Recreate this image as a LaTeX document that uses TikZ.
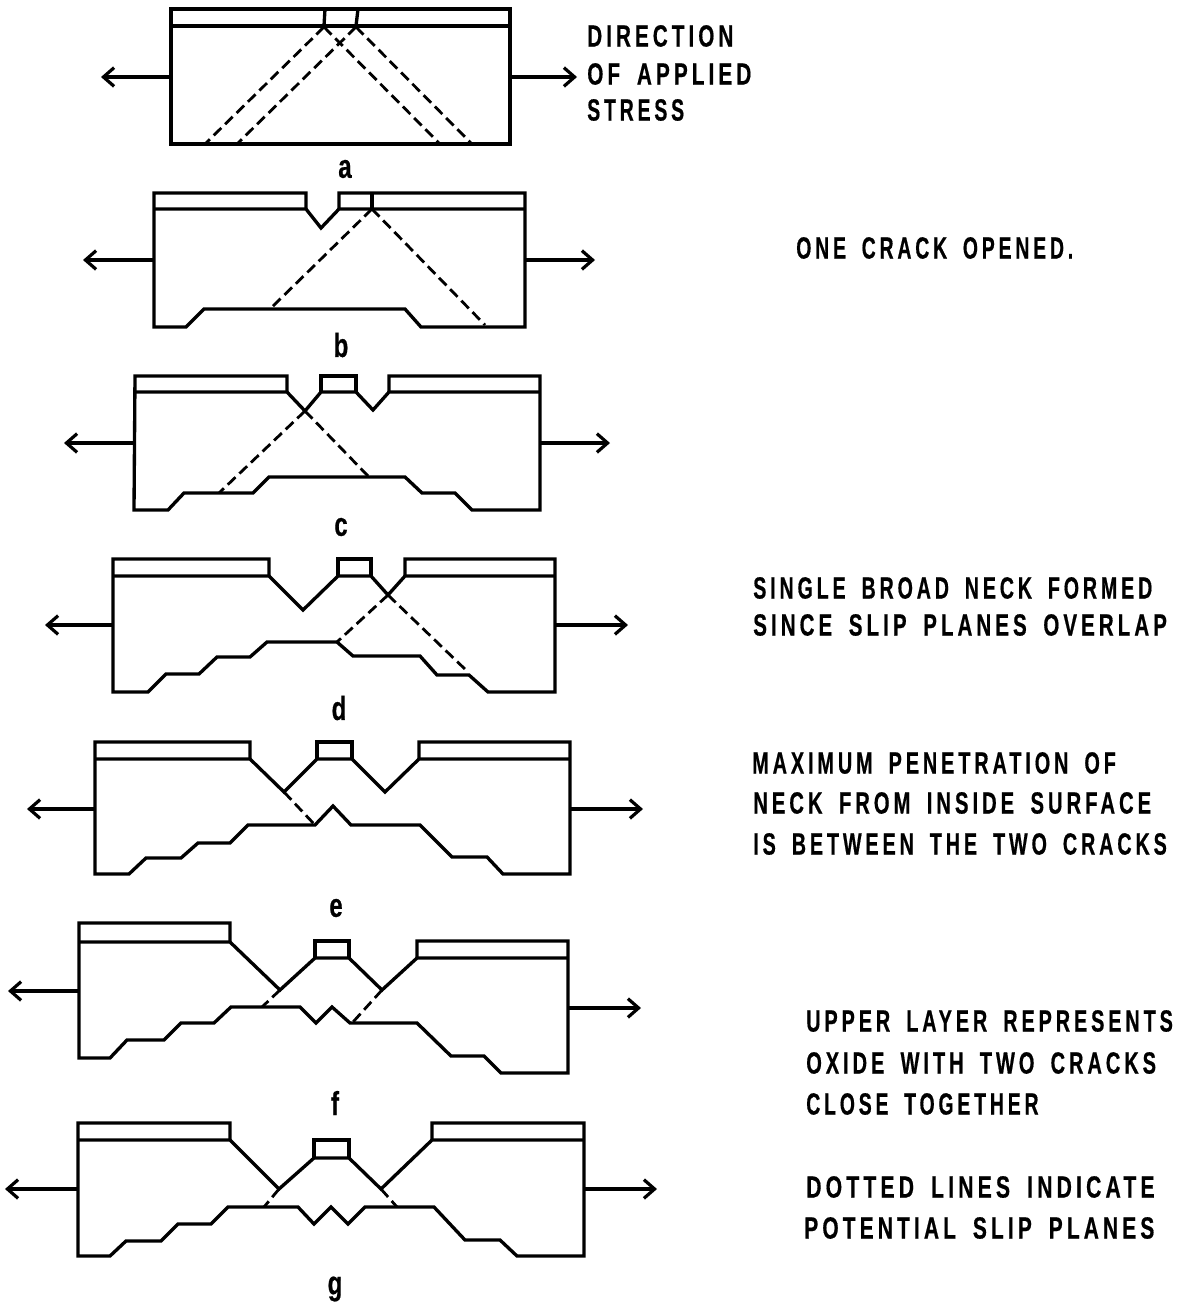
\documentclass[tikz,border=0pt]{standalone}
\usepackage{fontspec}
\usepackage{graphicx}
\usetikzlibrary{arrows.meta}
\setmainfont[FakeStretch=0.66,LetterSpace=13,WordSpace=1.7,FakeBold=0.5]{Liberation Sans Bold}
\newfontfamily\lblfont[FakeStretch=0.72,FakeBold=0.5]{Liberation Sans Bold}
\newcommand{\sx}[2]{\scalebox{#1}[1]{#2}}
\begin{document}
\begin{tikzpicture}[x=0.75pt,y=-0.75pt,
  thick line/.style={line width=2.5pt,line join=miter},
  slip/.style={line width=2.1pt,dash pattern=on 8pt off 4pt},
  stress/.style={line width=2.3pt,-{Straight Barb[length=8pt,width=14pt,line width=2.4pt]}},
  note/.style={anchor=west,font=\fontsize{23}{23}\selectfont,inner sep=0pt},
  lbl/.style={font=\lblfont\fontsize{25}{25}\selectfont,inner sep=0pt}]
\useasboundingbox (0,0) rectangle (1189,1303);
% panel a
\draw[thick line] (171,9) rectangle (510,144);
\draw[thick line] (171,26) -- (510,26);
\draw[thick line] (325,9) -- (324,26) (358,9) -- (356,26);
\draw[slip] (324,27) -- (206,143);
\draw[slip] (356,27) -- (238,143);
\draw[slip] (324,27) -- (439,143);
\draw[slip] (356,27) -- (471,143);
\coordinate (aL) at (171,77); \coordinate (aLt) at (101,77);
\coordinate (aR) at (510,77); \coordinate (aRt) at (577,77);
\draw[stress] (aL) -- (aLt);
\draw[stress] (aR) -- (aRt);
\node[lbl] (la) at (345,169) {a};
% panel b
\draw[thick line] (306,209) -- (306,193) -- (154,193) -- (154,327) -- (186,327) -- (204,309) -- (405,309) -- (421,327) -- (525,327) -- (525,193) -- (339,193) -- (339,209);
\draw[thick line] (154,209) -- (306,209) -- (321,228) -- (339,209) -- (525,209);
\draw[thick line] (372,193) -- (372,209);
\draw[slip] (372,209) -- (270,309);
\draw[slip] (372,209) -- (485,325);
\coordinate (bL) at (154,260); \coordinate (bLt) at (83,260);
\coordinate (bR) at (525,260); \coordinate (bRt) at (595,260);
\draw[stress] (bL) -- (bLt);
\draw[stress] (bR) -- (bRt);
\node[lbl] (lb) at (341,345) {b};
% panel c
\draw[thick line] (287,392) -- (287,376) -- (135,376) -- (134,510) -- (168,510) -- (184,493) -- (253,493) -- (269,477) -- (405,477) -- (422,493) -- (455,493) -- (472,510) -- (540,510) -- (540,376) -- (389,376) -- (389,392);
\draw[thick line] (135,392) -- (287,392) -- (305,411) -- (321,392) -- (356,392) -- (373,410) -- (389,392) -- (540,392);
\draw[thick line] (321,392) -- (321,376) -- (356,376) -- (356,392);
\draw[slip] (305,411) -- (219,493);
\draw[slip] (305,411) -- (369,477);
\coordinate (cL) at (133,443); \coordinate (cLt) at (64,443);
\coordinate (cR) at (540,443); \coordinate (cRt) at (610,443);
\draw[stress] (cL) -- (cLt);
\draw[stress] (cR) -- (cRt);
\node[lbl] (lc) at (341,527) {c};
% panel d
\draw[thick line] (269,576) -- (269,559) -- (113,559) -- (113,692) -- (148,692) -- (166,674) -- (199,674) -- (217,657) -- (250,657) -- (267,642) -- (337,642) -- (353,656) -- (420,656) -- (437,675) -- (469,675) -- (488,692) -- (555,692) -- (555,559) -- (405,559) -- (405,576);
\draw[thick line] (113,576) -- (269,576) -- (303,610) -- (338,576) -- (371,576) -- (388,595) -- (405,576) -- (555,576);
\draw[thick line] (338,576) -- (338,559) -- (371,559) -- (371,576);
\draw[slip] (388,595) -- (337,642);
\draw[slip] (388,595) -- (468,672);
\coordinate (dL) at (113,625); \coordinate (dLt) at (45,625);
\coordinate (dR) at (555,625); \coordinate (dRt) at (628,625);
\draw[stress] (dL) -- (dLt);
\draw[stress] (dR) -- (dRt);
\node[lbl] (ld) at (339,708) {d};
% panel e
\draw[thick line] (250,759) -- (250,742) -- (95,742) -- (95,874) -- (129,874) -- (146,858) -- (181,858) -- (198,843) -- (230,843) -- (248,825) -- (315,825) -- (333,806) -- (351,825) -- (420,825) -- (452,857) -- (487,857) -- (503,874) -- (570,874) -- (570,742) -- (419,742) -- (419,759);
\draw[thick line] (95,759) -- (250,759) -- (284,792) -- (317,759) -- (352,759) -- (385,792) -- (419,759) -- (570,759);
\draw[thick line] (317,759) -- (317,742) -- (352,742) -- (352,759);
\draw[slip] (284,792) -- (315,825);
\coordinate (eL) at (95,809); \coordinate (eLt) at (27,809);
\coordinate (eR) at (570,809); \coordinate (eRt) at (643,809);
\draw[stress] (eL) -- (eLt);
\draw[stress] (eR) -- (eRt);
\node[lbl] (le) at (336,908) {e};
% panel f
\draw[thick line] (230,942) -- (230,923) -- (79,923) -- (79,1058) -- (110,1058) -- (127,1040) -- (164,1040) -- (181,1023) -- (214,1023) -- (231,1007) -- (300,1007) -- (316,1023) -- (332,1007) -- (350,1023) -- (417,1023) -- (451,1056) -- (484,1056) -- (501,1073) -- (568,1073) -- (568,941) -- (417,941) -- (417,958);
\draw[thick line] (79,942) -- (230,942) -- (280,990) -- (315,958) -- (349,958) -- (382,990) -- (417,958) -- (568,958);
\draw[thick line] (315,958) -- (315,941) -- (349,941) -- (349,958);
\draw[slip] (280,990) -- (262,1007);
\draw[slip] (382,990) -- (353,1022);
\coordinate (fL) at (79,991); \coordinate (fLt) at (8,991);
\coordinate (fR) at (568,1008); \coordinate (fRt) at (641,1008);
\draw[stress] (fL) -- (fLt);
\draw[stress] (fR) -- (fRt);
\node[lbl] (lf) at (335,1103) {f};
% panel g
\draw[thick line] (230,1140) -- (230,1123) -- (78,1123) -- (78,1256) -- (110,1256) -- (126,1241) -- (161,1241) -- (178,1224) -- (211,1224) -- (228,1207) -- (298,1207) -- (314,1224) -- (331,1207) -- (348,1224) -- (365,1207) -- (434,1207) -- (465,1240) -- (500,1240) -- (517,1256) -- (584,1256) -- (584,1123) -- (432,1123) -- (432,1140);
\draw[thick line] (78,1140) -- (230,1140) -- (279,1189) -- (314,1158) -- (349,1158) -- (381,1189) -- (432,1140) -- (584,1140);
\draw[thick line] (314,1158) -- (314,1140) -- (349,1140) -- (349,1158);
\draw[slip] (279,1189) -- (264,1207);
\draw[slip] (381,1189) -- (397,1207);
\coordinate (gL) at (78,1189); \coordinate (gLt) at (5,1189);
\coordinate (gR) at (584,1189); \coordinate (gRt) at (657,1189);
\draw[stress] (gL) -- (gLt);
\draw[stress] (gR) -- (gRt);
\node[lbl] (lg) at (335,1289) {g};
% notes
\node[note] (n1) at (587,36) {\sx{1.02}{DIRECTION}};
\node[note] (n2) at (587,74) {\sx{1.025}{OF APPLIED}};
\node[note] (n3) at (587,110) {\sx{0.96}{STRESS}};
\node[note] (n4) at (796,248) {\sx{0.96}{ONE CRACK OPENED.}};
\node[note] (n5) at (753,588) {\sx{0.97}{SINGLE BROAD NECK FORMED}};
\node[note] (n6) at (753,625) {\sx{1.015}{SINCE SLIP PLANES OVERLAP}};
\node[note] (n7) at (752,763) {\sx{0.98}{MAXIMUM PENETRATION OF}};
\node[note] (n8) at (753,803) {NECK FROM INSIDE SURFACE};
\node[note] (n9) at (753,844) {\sx{0.976}{IS BETWEEN THE TWO CRACKS}};
\node[note] (n10) at (806,1021) {\sx{0.98}{UPPER LAYER REPRESENTS}};
\node[note] (n11) at (806,1063) {\sx{0.99}{OXIDE WITH TWO CRACKS}};
\node[note] (n12) at (806,1104) {\sx{0.96}{CLOSE TOGETHER}};
\node[note] (n13) at (806,1187) {\sx{1.045}{DOTTED LINES INDICATE}};
\node[note] (n14) at (804,1228) {\sx{1.035}{POTENTIAL SLIP PLANES}};
\end{tikzpicture}
\end{document}
